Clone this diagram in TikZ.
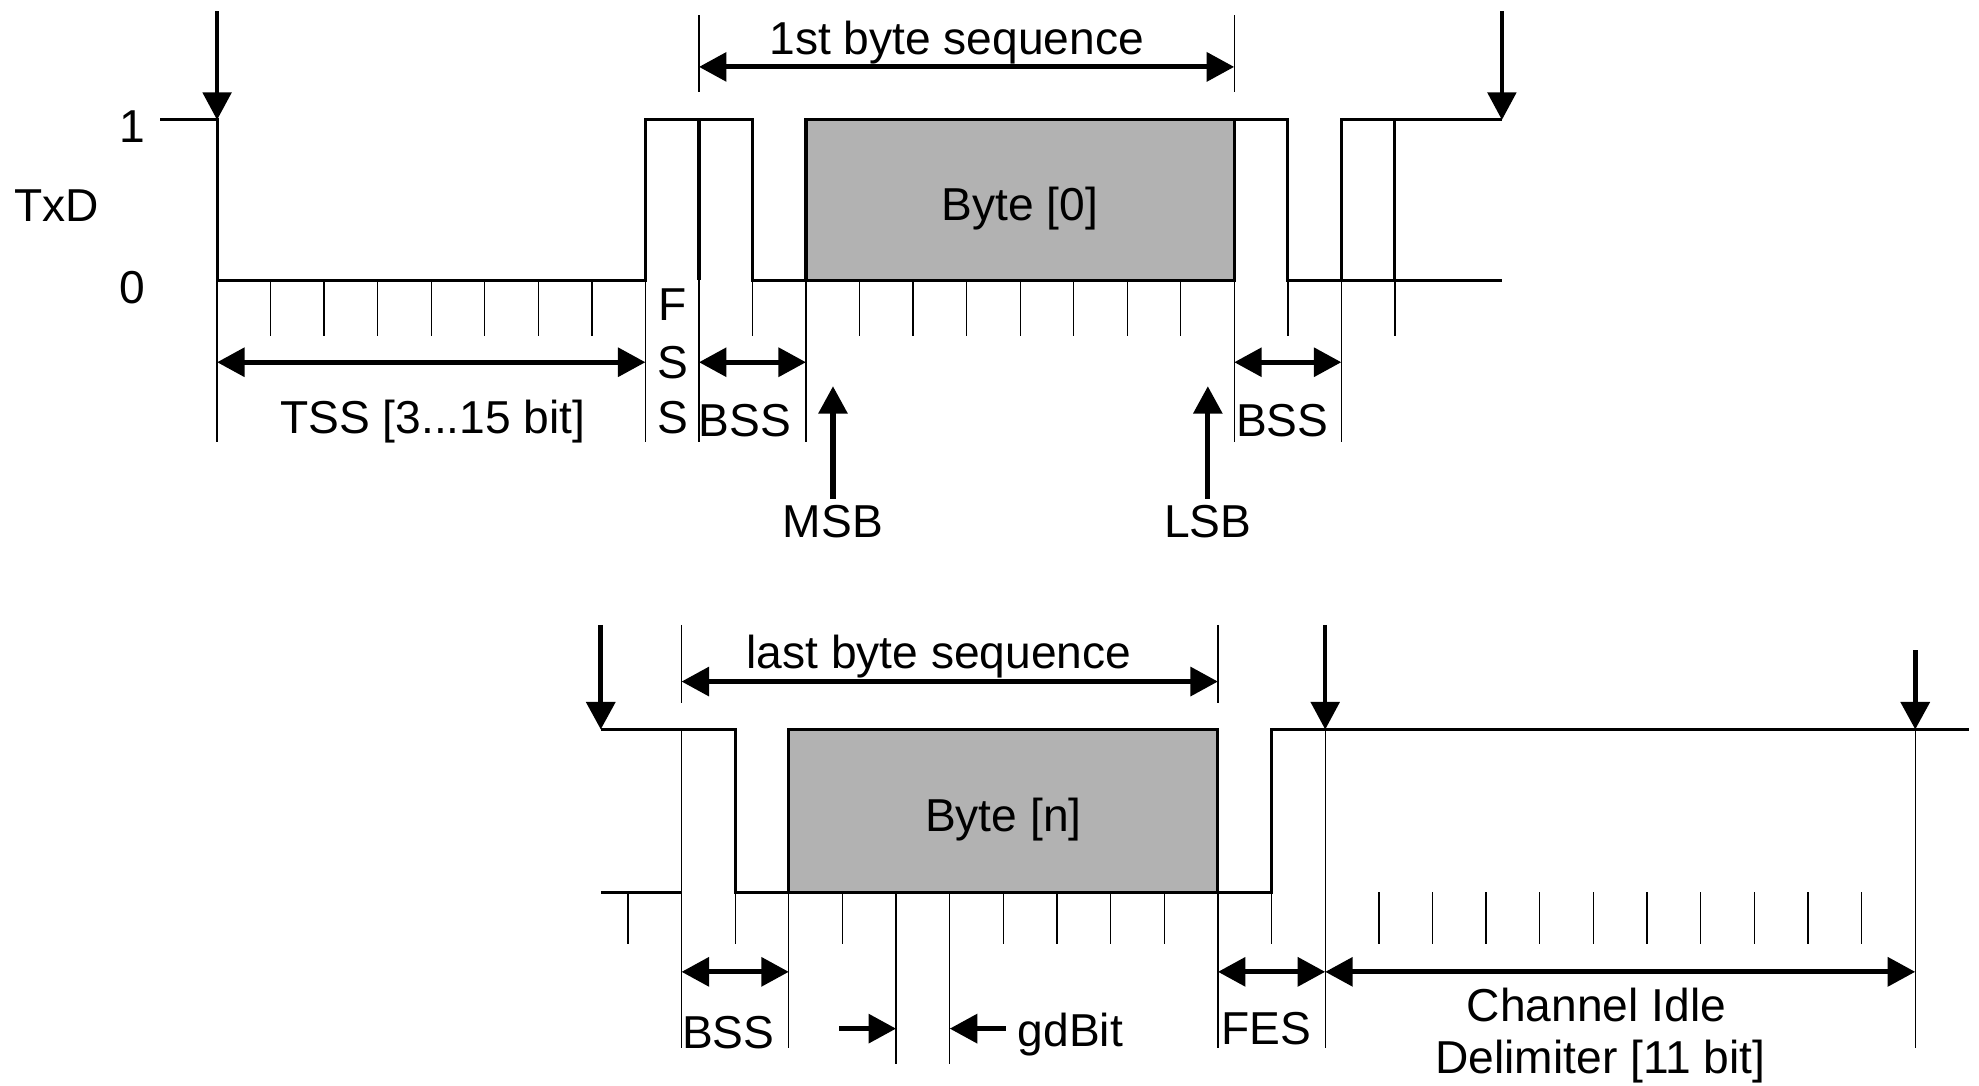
\documentclass[tikz,border=0pt]{standalone}
\usepackage{fontspec}
\setmainfont{Liberation Sans}
\usetikzlibrary{arrows.meta}
\begin{document}
\begin{tikzpicture}[x=0.01cm,y=-0.01cm,
  sig/.style={line width=0.7pt, line join=miter},
  hair/.style={line width=0.3pt},
  tipA/.tip={Triangle[length=6.2pt,width=6.4pt]},
  dimarrow/.style={line width=1.15pt, tipA-tipA},
  onearrow/.style={line width=1.15pt, -tipA},
  downarrow/.style={line width=0.9pt, -tipA},
  lbl/.style={font=\fontsize{10.4}{12}\selectfont, inner sep=0pt, anchor=center},
  bytebox/.style={sig, fill=gray!60},
]
\useasboundingbox (0,0) rectangle (1568,860);

% ================= TOP PANEL =================
% ticks (short)
\foreach \i in {1,2,3,4,5,6,7,10,12,13,14,15,16,17,18,20,22}
  \draw[hair] (172+42.42*\i,222) -- (172+42.42*\i,266);
% long boundary lines
\foreach \i in {0,8,9,11,19,21}
  \draw[hair] (172+42.42*\i,222) -- (172+42.42*\i,350);
% first byte sequence extension lines
\draw[hair] (553.8,12) -- (553.8,73);
\draw[hair] (977.9,12) -- (977.9,73);

% byte box
\draw[bytebox] (638.6,95) rectangle (977.9,222);
\node[lbl] (b0) at (808,165) {Byte [0]};

% signal
\draw[sig] (127,95) -- (172,95) -- (172,222) -- (511.4,222) -- (511.4,95)
  -- (596.2,95) -- (596.2,222) -- (638.6,222);
\draw[sig] (977.9,95) -- (1020.4,95) -- (1020.4,222) -- (1062.8,222) -- (1062.8,95) -- (1190,95);
\draw[sig] (1062.8,222) -- (1190,222);
\draw[sig] (553.8,95) -- (553.8,222);
\draw[sig] (1105.2,95) -- (1105.2,222);

% level labels
\node[lbl] (one) at (105,100) {1};
\node[lbl] (txd) at (45,163) {TxD};
\node[lbl] (zero) at (105,228) {0};

% down arrows
\coordinate (a1s) at (172,9);  \coordinate (a1e) at (172,95);
\coordinate (a2s) at (1190,9); \coordinate (a2e) at (1190,95);
\draw[downarrow] (a1s) -- (a1e);
\draw[downarrow] (a2s) -- (a2e);

% dimension arrows
\coordinate (tssL) at (172,287);   \coordinate (tssR) at (511.4,287);
\coordinate (bssL) at (553.8,287); \coordinate (bssR) at (638.6,287);
\coordinate (bss2L) at (977.9,287); \coordinate (bss2R) at (1062.8,287);
\coordinate (seqL) at (553.8,53);  \coordinate (seqR) at (977.9,53);
\draw[dimarrow] (tssL) -- (tssR);
\draw[dimarrow] (bssL) -- (bssR);
\draw[dimarrow] (bss2L) -- (bss2R);
\draw[dimarrow] (seqL) -- (seqR);

\node[lbl] (seq1) at (758,34) {1st byte sequence};
\node[lbl] (tss) at (343,334) {TSS [3...15 bit]};
\node[lbl] (f) at (533,241) {F};
\node[lbl] (s1) at (533,287) {S};
\node[lbl] (s2) at (533,331) {S};
\node[lbl] (bss1) at (590,333) {BSS};
\node[lbl] (bss2) at (1016,333) {BSS};

% MSB / LSB
\node[lbl] (msb) at (660,413) {MSB};
\node[lbl] (lsb) at (957,413) {LSB};
\coordinate (msbB) at (660,395); \coordinate (msbT) at (660,306);
\coordinate (lsbB) at (957,395); \coordinate (lsbT) at (957,306);
\draw[onearrow] (msbB) -- (msbT);
\draw[onearrow] (lsbB) -- (lsbT);

% ================= BOTTOM PANEL =================
% short ticks
\foreach \j in {-1,1,3,6,7,8,9,11,13,14,15,16,17,18,19,20,21,22}
  \draw[hair] (540+42.5*\j,707) -- (540+42.5*\j,748);
% gdBit lines
\foreach \j in {4,5}
  \draw[hair] (540+42.5*\j,707) -- (540+42.5*\j,843);
% long lines
\draw[hair] (540,578) -- (540,830);
\draw[hair] (625,707) -- (625,830);
\draw[hair] (965,707) -- (965,830);
\draw[hair] (1050,578) -- (1050,830);
\draw[hair] (1517.5,578) -- (1517.5,830);
% last byte sequence extension lines
\draw[hair] (540,495) -- (540,557);
\draw[hair] (965,495) -- (965,557);

% byte box
\draw[bytebox] (625,578) rectangle (965,707);
\node[lbl] (bn) at (795,649) {Byte [n]};

% signal
\draw[sig] (476,578) -- (582.5,578) -- (582.5,707) -- (625,707);
\draw[sig] (965,707) -- (1007.5,707) -- (1007.5,578) -- (1560,578);
\draw[sig] (476,707) -- (540,707);

% down arrows
\coordinate (c1s) at (476,495);   \coordinate (c1e) at (476,578);
\coordinate (c2s) at (1050,495);  \coordinate (c2e) at (1050,578);
\coordinate (c3s) at (1517.5,515); \coordinate (c3e) at (1517.5,578);
\draw[onearrow] (c1s) -- (c1e);
\draw[downarrow] (c2s) -- (c2e);
\draw[onearrow] (c3s) -- (c3e);

% dimension arrows
\coordinate (lsqL) at (540,540); \coordinate (lsqR) at (965,540);
\coordinate (bbL) at (540,770);  \coordinate (bbR) at (625,770);
\coordinate (fesL) at (965,770); \coordinate (fesR) at (1050,770);
\coordinate (cidL) at (1050,770); \coordinate (cidR) at (1517.5,770);
\draw[dimarrow] (lsqL) -- (lsqR);
\draw[dimarrow] (bbL) -- (bbR);
\draw[dimarrow] (fesL) -- (fesR);
\draw[dimarrow] (cidL) -- (cidR);

% gdBit arrows
\coordinate (g1s) at (665,815); \coordinate (g1e) at (710,815);
\coordinate (g2s) at (797,815); \coordinate (g2e) at (752.5,815);
\draw[onearrow] (g1s) -- (g1e);
\draw[onearrow] (g2s) -- (g2e);

\node[lbl] (lseq) at (744,520) {last byte sequence};
\node[lbl] (bssb) at (577,818) {BSS};
\node[lbl] (gd) at (848,820) {gdBit};
\node[lbl] (fes) at (1003,815) {FES};
\node[lbl] (ci1) at (1265,796) {Channel Idle};
\node[lbl] (ci2) at (1268,841) {Delimiter [11 bit]};
\end{tikzpicture}
\end{document}
